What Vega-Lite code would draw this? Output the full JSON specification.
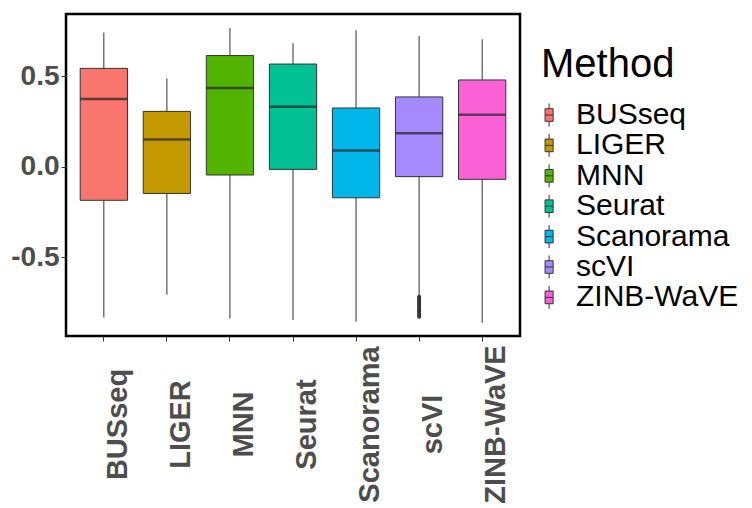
{
  "$schema": "https://vega.github.io/schema/vega-lite/v6.json",
  "width": 454,
  "height": 322,
  "autosize": {"type": "none"},
  "padding": {"left": 66, "top": 14, "right": 232, "bottom": 172},
  "background": "white",
  "config": {
    "view": {"stroke": "black", "strokeWidth": 2.5},
    "font": "Liberation Sans"
  },
  "datasets": {
    "stats": [
      {"method": "BUSseq", "lower": -0.834, "q1": -0.186, "median": 0.375, "q3": 0.544, "upper": 0.742},
      {"method": "LIGER", "lower": -0.709, "q1": -0.148, "median": 0.151, "q3": 0.306, "upper": 0.489},
      {"method": "MNN", "lower": -0.84, "q1": -0.046, "median": 0.436, "q3": 0.615, "upper": 0.768},
      {"method": "Seurat", "lower": -0.849, "q1": -0.015, "median": 0.332, "q3": 0.568, "upper": 0.683},
      {"method": "Scanorama", "lower": -0.858, "q1": -0.172, "median": 0.09, "q3": 0.325, "upper": 0.755},
      {"method": "scVI", "lower": -0.716, "q1": -0.055, "median": 0.185, "q3": 0.386, "upper": 0.724},
      {"method": "ZINB-WaVE", "lower": -0.864, "q1": -0.07, "median": 0.288, "q3": 0.48, "upper": 0.705}
    ],
    "outliers": [
      {"method": "scVI", "value": -0.72},
      {"method": "scVI", "value": -0.73},
      {"method": "scVI", "value": -0.74},
      {"method": "scVI", "value": -0.75},
      {"method": "scVI", "value": -0.76},
      {"method": "scVI", "value": -0.77},
      {"method": "scVI", "value": -0.78},
      {"method": "scVI", "value": -0.79},
      {"method": "scVI", "value": -0.8},
      {"method": "scVI", "value": -0.81},
      {"method": "scVI", "value": -0.82},
      {"method": "scVI", "value": -0.83}
    ]
  },
  "layer": [
    {
      "data": {"name": "stats"},
      "mark": {"type": "rule", "color": "#333333", "strokeWidth": 1},
      "encoding": {
        "x": {
          "field": "method",
          "type": "nominal",
          "scale": {
            "domain": ["BUSseq", "LIGER", "MNN", "Seurat", "Scanorama", "scVI", "ZINB-WaVE"],
            "paddingInner": 0,
            "paddingOuter": 0.1
          },
          "axis": {
            "title": null,
            "domain": false,
            "labelAngle": -90,
            "labelAlign": "center",
            "labelBaseline": "top",
            "labelPadding": 83,
            "labelFontSize": 29,
            "labelFontWeight": "bold",
            "labelColor": "#4D4D4D",
            "tickSize": 5,
            "tickColor": "#333333",
            "labelOverlap": false,
            "labelBound": false,
            "labelFlush": false,
            "labelLimit": 0
          }
        },
        "y": {
          "field": "lower",
          "type": "quantitative",
          "scale": {"domain": [-0.937, 0.845], "nice": false, "zero": false},
          "axis": {
            "title": null,
            "domain": false,
            "grid": false,
            "values": [-0.5, 0, 0.5],
            "labelExpr": "replace(format(datum.value, '.1f'), '\u2212', '-')",
            "labelFontSize": 28,
            "labelFontWeight": "bold",
            "labelColor": "#4D4D4D",
            "labelPadding": 2,
            "tickSize": 5,
            "tickColor": "#333333"
          }
        },
        "y2": {"field": "upper"}
      }
    },
    {
      "data": {"name": "stats"},
      "mark": {"type": "bar", "width": {"band": 0.75}, "stroke": "#333333", "strokeWidth": 1},
      "encoding": {
        "x": {"field": "method", "type": "nominal"},
        "y": {"field": "q1", "type": "quantitative"},
        "y2": {"field": "q3"},
        "fill": {
          "field": "method",
          "type": "nominal",
          "scale": {
            "domain": ["BUSseq", "LIGER", "MNN", "Seurat", "Scanorama", "scVI", "ZINB-WaVE"],
            "range": ["#F8766D", "#C49A00", "#53B400", "#00C094", "#00B6EB", "#A58AFF", "#FB61D7"]
          },
          "legend": {
            "title": "Method",
            "orient": "none",
            "legendX": 475,
            "legendY": 31,
            "titleFontSize": 40,
            "titleFontWeight": "normal",
            "titleColor": "black",
            "titlePadding": 15,
            "labelFontSize": 30,
            "labelColor": "black",
            "labelOffset": 5,
            "labelLimit": 0,
            "rowPadding": 0.4,
            "symbolType": "M-0.95,-0.55H-0.25V0.55H-0.95Z M-0.6,-1V-0.55 M-0.6,0.55V1 M-0.95,0H-0.25",
            "symbolSize": 529,
            "symbolStrokeColor": "#333333",
            "symbolStrokeWidth": 1,
            "symbolOpacity": 1
          }
        }
      }
    },
    {
      "data": {"name": "stats"},
      "mark": {"type": "tick", "color": "#222222", "thickness": 2.5, "size": 47},
      "encoding": {
        "x": {"field": "method", "type": "nominal"},
        "y": {"field": "median", "type": "quantitative"}
      }
    },
    {
      "data": {"name": "outliers"},
      "mark": {"type": "point", "filled": true, "color": "#333333", "size": 16, "opacity": 1},
      "encoding": {
        "x": {"field": "method", "type": "nominal"},
        "y": {"field": "value", "type": "quantitative"}
      }
    }
  ]
}
